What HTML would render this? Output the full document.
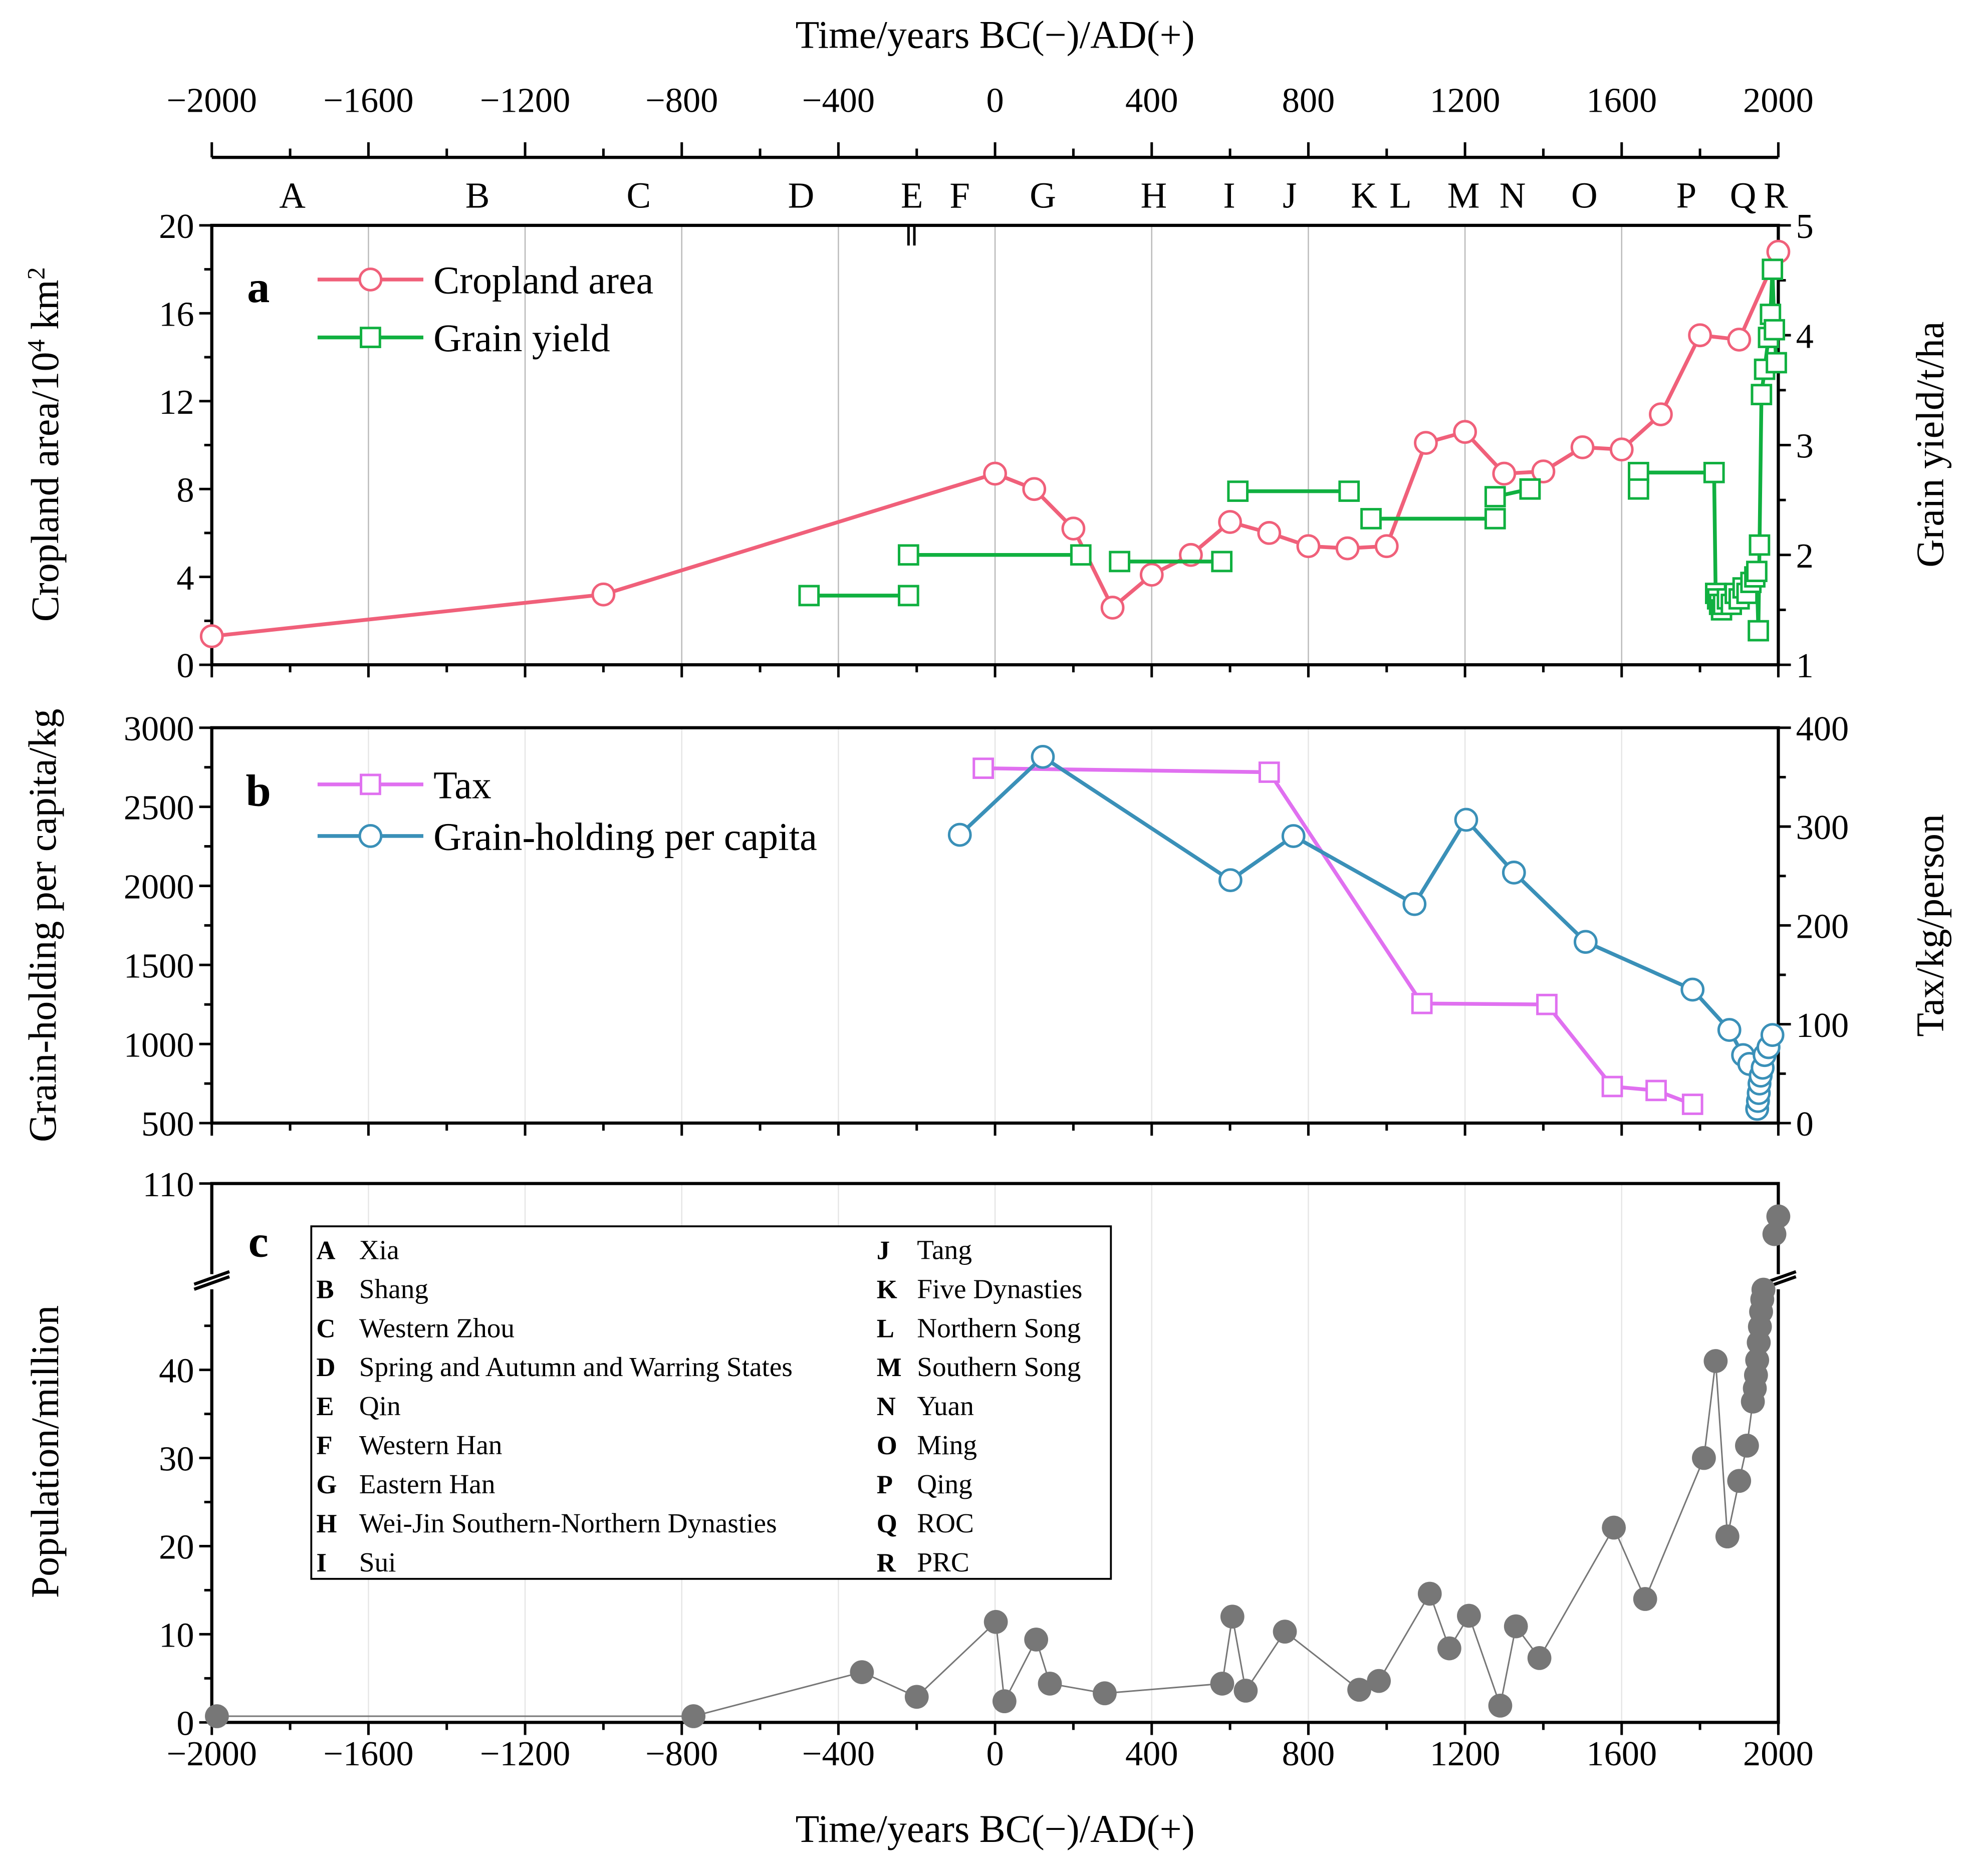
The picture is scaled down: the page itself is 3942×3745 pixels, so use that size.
<!DOCTYPE html>
<html><head><meta charset="utf-8"><style>
html,body{margin:0;padding:0;background:#fff}
svg{display:block;font-family:"Liberation Serif",serif}
</style></head><body>
<svg id="chart" width="3942" height="3745" viewBox="0 0 1568 1490" xmlns="http://www.w3.org/2000/svg"></svg>
<script>
const years=[-2000,-1600,-1200,-800,-400,0,400,800,1200,1600,2000];
const cropYears=[-2000,-1000,0,100,200,300,400,500,600,700,800,900,1000,1100,1200,1300,1400,1500,1600,1700,1800,1900,2000];
const cropVals=[1.3,3.2,8.7,8.0,6.2,2.6,4.1,5.0,6.5,6.0,5.4,5.3,5.4,10.1,10.6,8.7,8.8,9.9,9.8,11.4,15.0,14.8,18.8];
const yieldSegYears=[[-475,-221],[-221,219],[318,579],[620,904],[960,1277],[1277,1366],[1643,1836]];
const yieldSegVals=[[1.63,1.63],[2.0,2.0],[1.94,1.94],[2.58,2.58],[2.33,2.33],[2.53,2.6],[2.75,2.75]];
const yieldExtraYears=[1643,1366,1840,1845,1850,1855,1860,1870,1880,1890,1900,1910,1920,1930,1940,1945,1949,1952,1957,1965,1975,1980,1985,1990,1995];
const yieldExtraVals=[2.6,2.6,1.65,1.6,1.55,1.5,1.55,1.6,1.55,1.65,1.6,1.7,1.65,1.75,1.8,1.85,1.31,2.09,3.46,3.69,3.98,4.19,4.6,4.05,3.75];
const grainYears=[-90,122,601,762,1071,1203,1325,1508,1781,1875,1910,1926,1946,1948,1950,1952,1955,1960,1965,1975,1985];
const grainVals=[2323,2816,2036,2315,1885,2418,2084,1646,1344,1089,930,874,590,640,690,750,800,850,930,980,1057];
const taxYears=[-30,700,1090,1409,1576,1688,1781];
const taxVals=[359,355,121,120,37,33,19];
const popYears=[-1987,-770,-340,-200,2,24,105,140,280,580,606,640,740,930,980,1110,1160,1210,1290,1330,1390,1580,1660,1810,1840,1870,1900,1920,1935,1940,1943,1946,1950,1953,1956,1959,1962];
const popVals=[0.7,0.7,5.7,2.9,11.4,2.4,9.4,4.4,3.3,4.4,12,3.6,10.3,3.7,4.7,14.6,8.4,12.1,1.9,10.9,7.3,22.1,14,30,41,21.1,27.4,31.4,36.4,37.9,39.4,41.1,43.1,44.9,46.6,48,49.1];
const popUpYears=[1990,2000];
const popUpVals=[99.7,103.3];
const letters=["A","B","C","D","E","F","G","H","I","J","K","L","M","N","O","P","Q","R"];
const letterX=[232,379,507,636,724,762,828,916,976,1024,1083,1112,1162,1201,1258,1339,1384,1410];
const legendLeft=[["A","Xia"],["B","Shang"],["C","Western Zhou"],["D","Spring and Autumn and Warring States"],["E","Qin"],["F","Western Han"],["G","Eastern Han"],["H","Wei-Jin Southern-Northern Dynasties"],["I","Sui"]];
const legendRight=[["J","Tang"],["K","Five Dynasties"],["L","Northern Song"],["M","Southern Song"],["N","Yuan"],["O","Ming"],["P","Qing"],["Q","ROC"],["R","PRC"]];

const svg=document.getElementById('chart');
const NS='http://www.w3.org/2000/svg';
function el(tag,attrs,parent){const e=document.createElementNS(NS,tag);for(const k in attrs)e.setAttribute(k,attrs[k]);(parent||svg).appendChild(e);return e;}
function txt(s,x,y,size,anchor,parent,extra){const t=el('text',Object.assign({x:x,y:y,'font-size':size,'text-anchor':anchor||'middle'},extra||{}),parent);t.textContent=s;return t;}
const X=y=>168+(y+2000)*1244/4000;
const L=168,R=1412;
const TF=28, TT=31;
const aY=v=>528-v*349/20, aY2=v=>528-(v-1)*349/4;
const bY=v=>892-(v-500)*314/2500, bY2=v=>892-v*314/400;
const cY=v=>1368-v*7, cYu=v=>1018-(v-90)*3.9;

const grid=el('g',{});


years.slice(1,-1).forEach(y=>{
  el('line',{x1:X(y),x2:X(y),y1:179,y2:528,stroke:'#bbb','stroke-width':1},grid);
  el('line',{x1:X(y),x2:X(y),y1:578,y2:892,stroke:'#e6e6e6','stroke-width':1},grid);
  el('line',{x1:X(y),x2:X(y),y1:940,y2:1368,stroke:'#e6e6e6','stroke-width':1},grid);
});

const topAx=el('g',{});


el('line',{x1:L,x2:R,y1:125,y2:125,stroke:'#000','stroke-width':2.5},topAx);
years.forEach(y=>{el('line',{x1:X(y),x2:X(y),y1:113,y2:125,stroke:'#000','stroke-width':2},topAx);txt(y<0?'\u2212'+(-y):String(y),X(y),89,TF,'middle',topAx);});
for(let y=-1800;y<2000;y+=400)el('line',{x1:X(y),x2:X(y),y1:118,y2:125,stroke:'#000','stroke-width':2},topAx);
[-221,-206].forEach(y=>el('line',{x1:X(y),x2:X(y),y1:179,y2:195,stroke:'#000','stroke-width':2},topAx));
txt('Time/years BC(\u2212)/AD(+)',790,38,TT,'middle',topAx);
letters.forEach((s,i)=>txt(s,letterX[i],165,29,'middle',topAx));

function frame(name,y1,y2){
  const g=el('g',{});
  
  
  el('rect',{x:L,y:y1,width:R-L,height:y2-y1,fill:'none',stroke:'#000','stroke-width':2.5},g);
  years.forEach(y=>el('line',{x1:X(y),x2:X(y),y1:y2,y2:y2+10,stroke:'#000','stroke-width':2},g));
  for(let y=-1800;y<2000;y+=400)el('line',{x1:X(y),x2:X(y),y1:y2,y2:y2+6,stroke:'#000','stroke-width':2},g);
  return g;
}
function leftTicks(g,vals,f,minor){vals.forEach(v=>{el('line',{x1:L-10,x2:L,y1:f(v),y2:f(v),stroke:'#000','stroke-width':2},g);txt(String(v),L-14,f(v)+10,TF,'end',g);});(minor||[]).forEach(v=>el('line',{x1:L-6,x2:L,y1:f(v),y2:f(v),stroke:'#000','stroke-width':2},g));}
function rightTicks(g,vals,f,minor){vals.forEach(v=>{el('line',{x1:R,x2:R+10,y1:f(v),y2:f(v),stroke:'#000','stroke-width':2},g);txt(String(v),R+14,f(v)+10,TF,'start',g);});(minor||[]).forEach(v=>el('line',{x1:R,x2:R+6,y1:f(v),y2:f(v),stroke:'#000','stroke-width':2},g));}
const sq=(g,x,y,c)=>el('rect',{x:x-7.5,y:y-7.5,width:15,height:15,fill:'#fff',stroke:c,'stroke-width':2},g);

// Panel a
const ga=frame('panel-a',179,528);
leftTicks(ga,[0,4,8,12,16,20],aY,[2,6,10,14,18]);
rightTicks(ga,[1,2,3,4,5],aY2,[1.5,2.5,3.5,4.5]);
const ta=el('text',{'font-size':TT,'text-anchor':'middle',transform:'translate(46,353) rotate(-90)'},ga);
ta.appendChild(document.createTextNode('Cropland area/10'));
const s1=el('tspan',{dy:-11,'font-size':20},ta);s1.textContent='4';
const s2=el('tspan',{dy:11},ta);s2.textContent=' km';
const s3=el('tspan',{dy:-11,'font-size':20},ta);s3.textContent='2';
txt('Grain yield/t/ha',0,0,TT,'middle',ga,{transform:'translate(1543,353) rotate(-90)'});
txt('a',205,240,36,'middle',ga,{'font-weight':'bold'});
const cropG=el('g',{});
el('polyline',{points:cropYears.map((y,i)=>X(y)+','+aY(cropVals[i])).join(' '),fill:'none',stroke:'#f0607a','stroke-width':3},cropG);
cropYears.forEach((y,i)=>el('circle',{cx:X(y),cy:aY(cropVals[i]),r:8.5,fill:'#fff',stroke:'#f0607a','stroke-width':2},cropG));
const yG=el('g',{});
yieldSegYears.forEach((s,i)=>el('line',{x1:X(s[0]),x2:X(s[1]),y1:aY2(yieldSegVals[i][0]),y2:aY2(yieldSegVals[i][1]),stroke:'#10b040','stroke-width':3},yG));
el('polyline',{points:yieldExtraYears.slice(2).map((y,i)=>X(y)+','+aY2(yieldExtraVals[i+2])).join(' '),fill:'none',stroke:'#10b040','stroke-width':3},yG);
el('line',{x1:X(1836),x2:X(1840),y1:aY2(2.75),y2:aY2(1.65),stroke:'#10b040','stroke-width':3},yG);
yieldSegYears.forEach((s,i)=>{sq(yG,X(s[0]),aY2(yieldSegVals[i][0]),'#10b040');sq(yG,X(s[1]),aY2(yieldSegVals[i][1]),'#10b040');});
yieldExtraYears.forEach((y,i)=>sq(yG,X(y),aY2(yieldExtraVals[i]),'#10b040'));
const la=el('g',{});
el('line',{x1:252,x2:336,y1:222,y2:222,stroke:'#f0607a','stroke-width':3},la);el('circle',{cx:294,cy:222,r:8.5,fill:'#fff',stroke:'#f0607a','stroke-width':2},la);txt('Cropland area',344,233,TT,'start',la);
el('line',{x1:252,x2:336,y1:268,y2:268,stroke:'#10b040','stroke-width':3},la);sq(la,294,268,'#10b040');txt('Grain yield',344,279,TT,'start',la);

// Panel b
const gb=frame('panel-b',578,892);
leftTicks(gb,[500,1000,1500,2000,2500,3000],bY,[750,1250,1750,2250,2750]);
rightTicks(gb,[0,100,200,300,400],bY2,[50,150,250,350]);
txt('Grain-holding per capita/kg',0,0,TT,'middle',gb,{transform:'translate(44,735) rotate(-90)'});
txt('Tax/kg/person',0,0,TT,'middle',gb,{transform:'translate(1543,735) rotate(-90)'});
txt('b',205,640,36,'middle',gb,{'font-weight':'bold'});
const tG=el('g',{});
el('polyline',{points:taxYears.map((y,i)=>X(y)+','+bY2(taxVals[i])).join(' '),fill:'none',stroke:'#e070f0','stroke-width':3},tG);
taxYears.forEach((y,i)=>sq(tG,X(y),bY2(taxVals[i]),'#e070f0'));
const gG=el('g',{});
el('polyline',{points:grainYears.map((y,i)=>X(y)+','+bY(grainVals[i])).join(' '),fill:'none',stroke:'#3a90b8','stroke-width':3},gG);
grainYears.forEach((y,i)=>el('circle',{cx:X(y),cy:bY(grainVals[i]),r:8.5,fill:'#fff',stroke:'#3a90b8','stroke-width':2},gG));
const lb=el('g',{});
el('line',{x1:252,x2:336,y1:623,y2:623,stroke:'#e070f0','stroke-width':3},lb);sq(lb,294,623,'#e070f0');txt('Tax',344,634,TT,'start',lb);
el('line',{x1:252,x2:336,y1:664,y2:664,stroke:'#3a90b8','stroke-width':3},lb);el('circle',{cx:294,cy:664,r:8.5,fill:'#fff',stroke:'#3a90b8','stroke-width':2},lb);txt('Grain-holding per capita',344,675,TT,'start',lb);

// Panel c
const gc=frame('panel-c',940,1368);
leftTicks(gc,[0,10,20,30,40],cY,[5,15,25,35,45]);
el('line',{x1:L-10,x2:L,y1:940,y2:940,stroke:'#000','stroke-width':2},gc);txt('110',L-14,950,TF,'end',gc);
[L,R].forEach(x=>{el('rect',{x:x-14,y:1012,width:28,height:12,fill:'#fff'},gc);el('line',{x1:x-14,x2:x+14,y1:1024,y2:1014,stroke:'#000','stroke-width':2.5},gc);el('line',{x1:x-14,x2:x+14,y1:1020,y2:1010,stroke:'#000','stroke-width':2.5},gc);});
txt('Population/million',0,0,TT,'middle',gc,{transform:'translate(46,1153) rotate(-90)'});
txt('c',205,998,36,'middle',gc,{'font-weight':'bold'});
years.forEach(y=>txt(y<0?'\u2212'+(-y):String(y),X(y),1402,TF,'middle',gc));
txt('Time/years BC(\u2212)/AD(+)',790,1463,TT,'middle',gc);
const pG=el('g',{});
el('polyline',{points:popYears.map((y,i)=>X(y)+','+cY(popVals[i])).join(' '),fill:'none',stroke:'#777','stroke-width':1.2},pG);
popYears.forEach((y,i)=>el('circle',{cx:X(y),cy:cY(popVals[i]),r:9.5,fill:'#777'},pG));
popUpYears.forEach((y,i)=>el('circle',{cx:X(y),cy:cYu(popUpVals[i]),r:9.5,fill:'#777'},pG));
const lc=el('g',{});
el('rect',{x:247,y:974,width:635,height:280,fill:'#fff',stroke:'#000','stroke-width':1.5},lc);
legendLeft.forEach((r,i)=>{txt(r[0],251,1000+i*31,21,'start',lc,{'font-weight':'bold'});txt(r[1],285,1000+i*31,22,'start',lc);});
legendRight.forEach((r,i)=>{txt(r[0],696,1000+i*31,21,'start',lc,{'font-weight':'bold'});txt(r[1],728,1000+i*31,22,'start',lc);});
</script>
</body></html>
